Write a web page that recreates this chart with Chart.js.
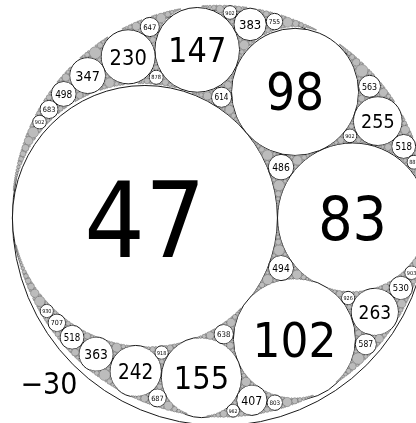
<!DOCTYPE html>
<html>
<head>
<meta charset="utf-8">
<script src="https://cdn.jsdelivr.net/npm/chart.js@4/dist/chart.umd.min.js"></script>
<style>
  html, body { margin: 0; background: #fff; }
  #wrap { width: 416px; height: 423px; }
</style>
</head>
<body>
<div id="wrap"><canvas id="gasket"></canvas></div>
<script>
// 外接円と内側3円の曲率 (Descartes の4つ組)
const rootCurvatures = [-30, 47, 83, 98];
// これ以下の曲率は白丸+数字、これより大きいものは灰色
const labelMaxCurvature = 1000;
// 描画する最小の円
const drawMaxCurvature = 12000;
// 軸の範囲
const axisX = [-0.035324, 0.031470];
const axisY = [-0.032916, 0.035003];
const outerLabelAt = [-0.02746, -0.02649];

/* =============================
 * アポロニウスのガスケット
 * ===========================*/
const [k0, k1, k2, k3] = rootCurvatures;
const R = -1 / k0;
const make = (k, x, y) => ({ k, kx: k * x, ky: k * y });

const ax = -(R - 1 / k1);
const bx = R - 1 / k2;
const dA = 1 / k1 + 1 / k3;
const dB = 1 / k2 + 1 / k3;
const ab = bx - ax;
const t = (dA * dA - dB * dB + ab * ab) / (2 * ab);
const cy = Math.sqrt(dA * dA - t * t);

const O = { k: k0, kx: 0, ky: 0 };
const A = make(k1, ax, 0);
const B = make(k2, bx, 0);
const C = make(k3, ax + t, cy);
const reflect = (p, q, r, old) => ({
  k: 2 * (p.k + q.k + r.k) - old.k,
  kx: 2 * (p.kx + q.kx + r.kx) - old.kx,
  ky: 2 * (p.ky + q.ky + r.ky) - old.ky
});
// 反対側 (102)
const D = reflect(O, A, B, C);

const circles = [O, A, B, C, D];
function grow(a, b, c, d) {
  [[b, c, d, a], [a, c, d, b], [a, b, d, c]].forEach(([p, q, r, old]) => {
    const n = reflect(p, q, r, old);
    if (n.k > drawMaxCurvature) return;
    circles.push(n);
    grow(p, q, r, n);
  });
}
grow(O, A, B, C);
grow(O, A, B, D);
circles.sort((a, b) => a.k - b.k);

const curvatures = circles.map(c => c.k);
const points = circles.map(c => c.k < 0 ? { x: 0, y: 0 } : { x: c.kx / c.k, y: c.ky / c.k });

const isWhite = k => k <= labelMaxCurvature;

// ラベル描画
const labelPlugin = {
  id: 'labels',
  afterDatasetsDraw(chart) {
    const ctx = chart.ctx;
    const meta = chart.getDatasetMeta(0);
    ctx.save();
    ctx.fillStyle = '#000';
    ctx.textAlign = 'center';
    ctx.textBaseline = 'alphabetic';
    meta.data.forEach((pt, i) => {
      const k = curvatures[i];
      if (k < 0 || !isWhite(k)) return;
      const size = pt.options.radius * 0.8;
      ctx.font = `${size}px "DejaVu Sans Condensed", "DejaVu Sans", sans-serif`;
      ctx.fillText(String(k), pt.x, pt.y + size * 0.365);
    });
    // 外接円の曲率
    const x = chart.scales.x.getPixelForValue(outerLabelAt[0]);
    const y = chart.scales.y.getPixelForValue(outerLabelAt[1]);
    ctx.font = '30px "DejaVu Sans Condensed", "DejaVu Sans", sans-serif';
    ctx.fillText('\u2212' + Math.abs(k0), x, y + 30 * 0.365);
    ctx.restore();
  }
};

new Chart(document.getElementById('gasket'), {
  type: 'scatter',
  data: {
    datasets: [{
      data: points,
      pointRadius: ctx => {
        const k = curvatures[ctx.dataIndex];
        if (k === undefined) return 0;
        const s = ctx.chart.scales.x;
        return Math.abs(s.getPixelForValue(1 / Math.abs(k)) - s.getPixelForValue(0));
      },
      pointBackgroundColor: ctx => isWhite(curvatures[ctx.dataIndex]) ? '#ffffff' : '#bcbcbc',
      pointBorderColor: ctx => isWhite(curvatures[ctx.dataIndex]) ? '#1a1a1a' : '#777777',
      pointBorderWidth: ctx => isWhite(curvatures[ctx.dataIndex]) ? 1 : 0.6,
      pointHoverRadius: 0,
      clip: false
    }]
  },
  options: {
    responsive: true,
    maintainAspectRatio: false,
    animation: false,
    events: [],
    layout: { padding: 0 },
    scales: {
      x: { type: 'linear', min: axisX[0], max: axisX[1], display: false },
      y: { type: 'linear', min: axisY[0], max: axisY[1], display: false }
    },
    plugins: { legend: { display: false }, tooltip: { enabled: false } }
  },
  plugins: [labelPlugin]
});
</script>
</body>
</html>
